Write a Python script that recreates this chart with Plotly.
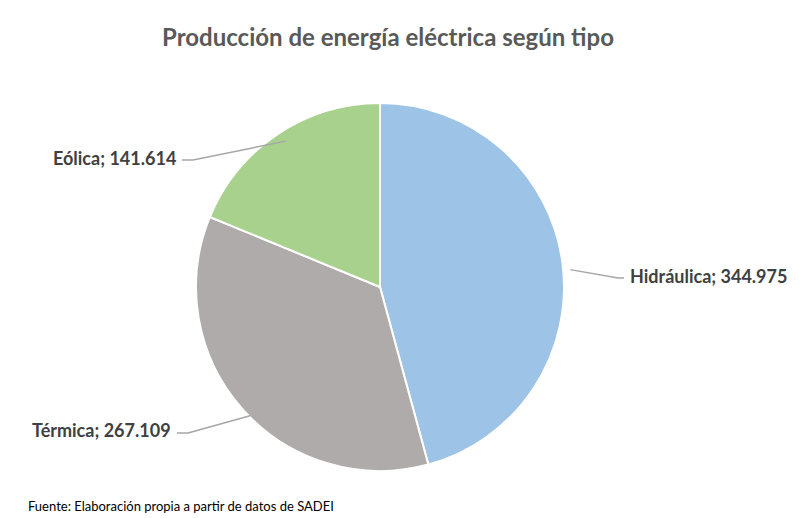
import math
import plotly.graph_objects as go

# Datos
tipos = ["Hidráulica", "Térmica", "Eólica"]
valores = [344975, 267109, 141614]
colores = ["#9DC3E6", "#AFABAB", "#A9D18E"]

W, H = 808, 518
cx, cy, r = 380, 286, 184  # centro y radio de la tarta en píxeles
dx, dy = -8, -7  # corrección de la posición del dominio


def px(x, y):
    return x / W, 1 - y / H


fig = go.Figure(go.Pie(
    labels=tipos, values=valores, sort=False, direction="clockwise", rotation=0,
    marker=dict(colors=colores, line=dict(color="white", width=2)),
    textinfo="none", hoverinfo="label+value",
    domain=dict(x=[(cx + dx - r) / W, (cx + dx + r) / W],
                y=[1 - (cy + dy + r) / H, 1 - (cy + dy - r) / H]),
))

# etiquetas con líneas guía
total = sum(valores)
acum = 0
codos = {"Hidráulica": (610, 270, 620, 268, "left"),
         "Térmica": (180, 425, 165, 422, "right"),
         "Eólica": (185, 152, 170, 150, "right")}
for t, v in zip(tipos, valores):
    mid = (acum + v / 2) / total * 2 * math.pi
    acum += v
    ex, ey = cx + r * math.sin(mid), cy - r * math.cos(mid)
    bx, by, tx, ty, anc = codos[t]
    endx = tx + (-4 if anc == "left" else 4)
    for (x0, y0), (x1, y1) in [((ex, ey), (bx, by)), ((bx, by), (endx, by))]:
        a, b = px(x0, y0)
        c, d = px(x1, y1)
        fig.add_shape(type="line", xref="paper", yref="paper", x0=a, y0=b, x1=c, y1=d,
                      line=dict(color="#A6A6A6", width=1.5))
    ax_, ay_ = px(tx, ty)
    fig.add_annotation(text=f"<b>{t}; {v:,}</b>".replace(",", "."), xref="paper", yref="paper",
                       x=ax_, y=ay_, xanchor=anc, yanchor="middle", showarrow=False,
                       font=dict(size=18, color="#404040"))

fig.add_annotation(text="Fuente: Elaboración propia a partir de datos de SADEI",
                   xref="paper", yref="paper", x=18 / W, y=1 - 498 / H,
                   xanchor="left", yanchor="middle", showarrow=False,
                   font=dict(size=13, color="black"))

fig.update_layout(
    title=dict(text="<b>Producción de energía eléctrica según tipo</b>", x=380 / W, xanchor="center",
               y=1 - 30 / H, yanchor="middle", font=dict(size=24, color="#595959")),
    font=dict(family="Lato, Carlito, sans-serif"),
    width=W, height=H, margin=dict(l=0, r=0, t=0, b=0),
    showlegend=False, paper_bgcolor="white",
)

fig.write_html("out.html")
